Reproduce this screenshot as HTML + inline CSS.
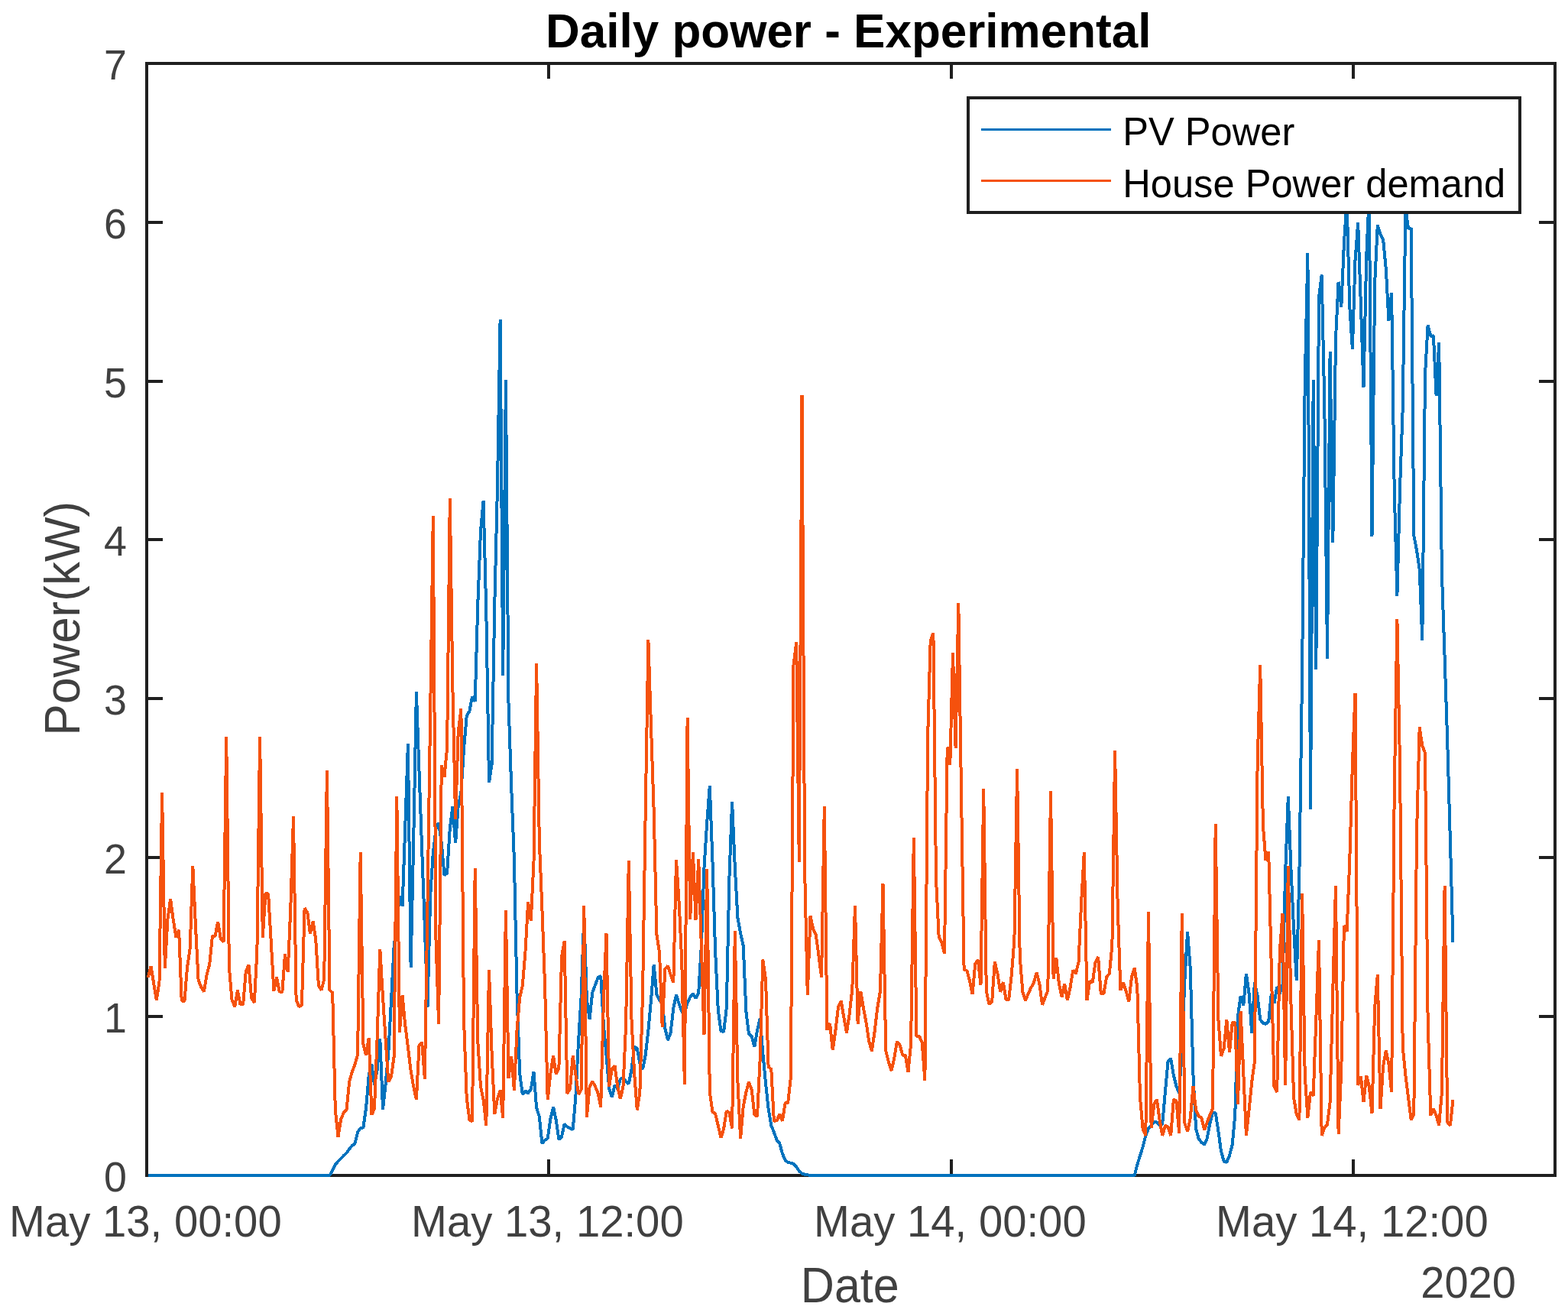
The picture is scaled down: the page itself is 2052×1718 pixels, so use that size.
<!DOCTYPE html>
<html lang="en">
<head>
<meta charset="utf-8">
<title>Daily power - Experimental</title>
<style>
html,body{margin:0;padding:0;background:#fff;}
body{width:2052px;height:1718px;overflow:hidden;}
svg{display:block;}
text{font-family:"Liberation Sans",sans-serif;}
.tk{font-size:56px;fill:#404040;}
.lb{font-size:62px;fill:#404040;}
.tt{font-size:62px;font-weight:bold;fill:#000;}
.lg{font-size:50.5px;fill:#000;}
</style>
</head>
<body>
<svg width="2052" height="1718" viewBox="0 0 2052 1718">
<rect x="0" y="0" width="2052" height="1718" fill="#fff"/>
<text class="tt" transform="translate(1110.20,62.20) scale(1,1.02)" text-anchor="middle">Daily power - Experimental</text>
<defs><clipPath id="c"><rect x="192.0" y="81.0" width="1843.0" height="1459.0"/></clipPath></defs>
<g stroke="#1f1f1f" stroke-width="4" fill="none" stroke-linecap="butt" shape-rendering="crispEdges">
<rect x="192.0" y="83.0" width="1843.0" height="1455.0"/>
<line x1="192.0" y1="1330.0" x2="213.0" y2="1330.0"/>
<line x1="2035.0" y1="1330.0" x2="2014.0" y2="1330.0"/>
<line x1="192.0" y1="1122.0" x2="213.0" y2="1122.0"/>
<line x1="2035.0" y1="1122.0" x2="2014.0" y2="1122.0"/>
<line x1="192.0" y1="914.0" x2="213.0" y2="914.0"/>
<line x1="2035.0" y1="914.0" x2="2014.0" y2="914.0"/>
<line x1="192.0" y1="706.0" x2="213.0" y2="706.0"/>
<line x1="2035.0" y1="706.0" x2="2014.0" y2="706.0"/>
<line x1="192.0" y1="499.0" x2="213.0" y2="499.0"/>
<line x1="2035.0" y1="499.0" x2="2014.0" y2="499.0"/>
<line x1="192.0" y1="291.0" x2="213.0" y2="291.0"/>
<line x1="2035.0" y1="291.0" x2="2014.0" y2="291.0"/>
<line x1="718.0" y1="1538.0" x2="718.0" y2="1517.0"/>
<line x1="718.0" y1="83.0" x2="718.0" y2="103.0"/>
<line x1="1245.0" y1="1538.0" x2="1245.0" y2="1517.0"/>
<line x1="1245.0" y1="83.0" x2="1245.0" y2="103.0"/>
<line x1="1771.0" y1="1538.0" x2="1771.0" y2="1517.0"/>
<line x1="1771.0" y1="83.0" x2="1771.0" y2="103.0"/>
</g>
<g clip-path="url(#c)">
<polyline fill="none" stroke="#0072BD" stroke-width="4" stroke-linejoin="bevel" stroke-linecap="butt" shape-rendering="crispEdges" points="193.8,1538.0 431.5,1538.0 435.2,1531.0 438.8,1524.0 442.5,1519.5 446.1,1516.0 449.8,1512.0 453.5,1508.6 457.1,1503.5 460.8,1499.0 464.4,1496.4 468.1,1481.5 471.7,1476.0 475.4,1475.4 479.1,1449.4 482.7,1407.0 486.4,1392.3 490.0,1419.4 493.7,1399.6 497.3,1358.7 501.0,1451.5 504.6,1418.7 508.3,1377.7 512.0,1309.0 515.6,1238.8 519.3,1208.0 522.9,1172.3 526.6,1185.5 530.2,1084.0 533.9,973.5 537.6,1265.9 541.2,1100.0 544.9,905.5 548.5,1009.0 552.2,1112.0 555.9,1215.0 559.5,1318.0 563.2,1171.6 566.8,1116.0 570.5,1085.0 574.1,1076.5 577.8,1103.0 581.5,1145.3 585.1,1142.3 588.8,1084.0 592.4,1055.4 596.1,1102.9 599.7,1054.6 603.4,1037.0 607.0,980.0 610.7,937.0 614.4,930.4 618.0,911.3 621.7,917.9 625.3,790.0 629.0,695.0 632.6,655.5 636.3,800.0 640.0,1024.0 643.6,1000.0 647.3,790.0 650.9,640.0 654.6,417.6 658.2,883.6 661.9,497.0 665.5,920.0 669.2,1030.0 672.9,1125.0 676.5,1300.0 680.2,1405.0 683.8,1432.0 687.5,1427.4 691.1,1430.4 694.8,1425.2 698.5,1402.6 702.1,1449.4 705.8,1461.0 709.4,1496.1 713.1,1491.8 716.7,1489.6 720.4,1464.0 724.1,1448.6 727.7,1465.4 731.4,1491.0 735.0,1487.4 738.7,1470.6 742.3,1474.5 746.0,1476.4 749.7,1477.9 753.3,1436.2 757.0,1363.0 760.6,1304.6 764.3,1198.0 767.9,1307.5 771.6,1333.9 775.2,1298.8 778.9,1289.0 782.6,1279.0 786.2,1277.0 789.9,1341.0 793.5,1380.7 797.2,1424.5 800.9,1435.5 804.5,1420.0 808.2,1424.5 811.8,1412.0 815.5,1410.0 819.1,1415.0 822.8,1418.0 826.5,1399.6 830.1,1369.7 833.8,1371.9 837.4,1391.0 841.1,1399.0 844.7,1380.6 848.4,1348.5 852.0,1309.0 855.7,1262.2 859.4,1301.7 863.0,1308.3 866.7,1312.0 870.3,1345.6 874.0,1361.0 877.6,1351.4 881.3,1319.0 885.0,1301.7 888.6,1313.4 892.3,1323.6 895.9,1326.5 899.6,1312.0 903.2,1304.6 906.9,1300.0 910.5,1306.4 914.2,1298.8 917.9,1237.0 921.5,1135.0 925.2,1076.5 928.8,1028.3 932.5,1127.7 936.1,1244.7 939.8,1322.0 943.5,1349.2 947.1,1350.0 950.8,1319.0 954.4,1149.6 958.1,1049.5 961.8,1135.0 965.4,1200.8 969.1,1221.3 972.7,1237.4 976.4,1323.6 980.0,1352.9 983.7,1355.8 987.3,1369.7 991.0,1348.5 994.7,1332.4 998.3,1377.7 1002.0,1417.2 1005.6,1450.8 1009.3,1472.7 1012.9,1481.5 1016.6,1491.8 1020.2,1496.0 1023.9,1509.3 1027.6,1518.0 1031.2,1521.0 1034.9,1521.7 1038.5,1522.7 1042.2,1526.8 1045.8,1532.0 1049.5,1535.6 1053.2,1536.8 1056.8,1537.4 1060.5,1537.8 1064.1,1538.0 1484.7,1538.0 1488.3,1523.9 1492.0,1512.2 1495.6,1500.5 1499.3,1485.9 1503.0,1476.4 1506.6,1472.7 1510.3,1467.6 1513.9,1468.7 1517.6,1472.7 1521.2,1470.6 1524.9,1428.9 1528.5,1389.4 1532.2,1385.0 1535.9,1407.0 1539.5,1421.6 1543.2,1430.4 1546.8,1370.0 1550.5,1281.0 1554.1,1219.5 1557.8,1268.0 1561.5,1407.0 1565.1,1477.0 1568.8,1490.3 1572.4,1494.7 1576.1,1497.6 1579.7,1489.6 1583.4,1469.8 1587.0,1456.0 1590.7,1456.0 1594.4,1480.0 1598.0,1506.4 1601.7,1519.5 1605.3,1520.7 1609.0,1512.2 1612.7,1497.6 1616.3,1458.0 1620.0,1329.5 1623.6,1303.2 1627.3,1315.6 1630.9,1274.0 1634.6,1300.0 1638.2,1351.4 1641.9,1285.0 1645.6,1303.0 1649.2,1333.9 1652.9,1339.0 1656.5,1339.7 1660.2,1336.8 1663.8,1300.0 1667.5,1313.0 1671.2,1291.0 1674.8,1300.0 1678.5,1288.0 1682.1,1142.0 1685.8,1042.2 1689.4,1135.0 1693.1,1215.4 1696.8,1283.4 1700.4,1142.3 1704.1,880.0 1707.7,500.0 1711.4,331.0 1715.0,1059.0 1718.7,497.1 1722.3,876.3 1726.0,389.4 1729.7,359.6 1733.3,529.0 1737.0,861.6 1740.6,460.2 1744.3,710.3 1748.0,443.0 1751.6,368.7 1755.3,402.0 1758.9,318.7 1762.6,262.0 1766.2,400.0 1769.9,457.0 1773.5,340.7 1777.2,291.2 1780.9,399.0 1784.5,507.3 1788.2,336.0 1791.8,255.0 1795.5,702.0 1799.1,372.0 1802.8,294.4 1806.5,307.0 1810.1,313.2 1813.8,351.7 1817.4,420.0 1821.1,383.2 1824.7,640.0 1828.4,779.8 1832.0,640.0 1835.7,535.0 1839.4,272.0 1843.0,299.0 1846.7,298.6 1850.3,700.8 1854.0,720.0 1857.7,745.0 1861.3,837.5 1865.0,490.0 1868.6,425.6 1872.3,439.7 1875.9,439.4 1879.6,517.5 1883.2,448.4 1886.9,750.0 1890.6,860.0 1894.2,970.0 1897.9,1100.0 1901.5,1233.0"/>
<polyline fill="none" stroke="#F5510D" stroke-width="4" stroke-linejoin="bevel" stroke-linecap="butt" shape-rendering="crispEdges" points="193.8,1278.9 197.5,1264.5 204.8,1308.5 208.5,1284.7 212.1,1036.7 215.8,1267.2 219.4,1203.2 223.1,1176.4 226.7,1203.2 230.4,1226.5 234.1,1216.7 237.7,1309.2 241.4,1310.3 245.0,1266.1 248.7,1240.5 252.3,1132.9 256.0,1212.5 259.6,1282.4 263.3,1291.7 267.0,1297.5 270.6,1275.4 274.3,1261.4 277.9,1225.3 281.6,1224.6 285.2,1206.0 288.9,1228.8 292.6,1232.3 296.2,963.8 299.9,1266.1 303.5,1308.0 307.2,1317.3 310.9,1295.7 314.5,1314.3 318.2,1313.8 321.8,1270.8 325.5,1262.6 329.1,1305.7 332.8,1312.0 336.4,1245.1 340.1,963.8 343.8,1226.5 347.4,1169.4 351.1,1169.4 354.7,1231.2 358.4,1296.4 362.0,1278.9 365.7,1297.5 369.4,1298.0 373.0,1248.6 376.7,1271.9 380.3,1188.1 384.0,1068.1 387.6,1308.0 391.3,1317.3 394.9,1315.5 398.6,1188.1 402.3,1193.9 405.9,1221.8 409.6,1205.5 413.2,1228.8 416.9,1289.4 420.6,1295.7 424.2,1281.2 427.9,1008.0 431.5,1295.6 435.2,1299.0 438.8,1452.0 442.5,1487.7 446.1,1464.7 449.8,1456.0 453.5,1452.0 457.1,1415.7 460.8,1402.6 464.4,1393.0 468.1,1380.0 471.7,1114.6 475.4,1366.0 479.1,1381.0 482.7,1358.0 486.4,1458.6 490.0,1450.5 493.7,1356.0 497.3,1241.8 501.0,1304.6 504.6,1360.0 508.3,1415.5 512.0,1408.5 515.6,1383.0 519.3,1042.2 522.9,1350.7 526.6,1302.4 530.2,1341.0 533.9,1370.0 537.6,1401.0 541.2,1421.6 544.9,1439.0 548.5,1368.2 552.2,1363.8 555.9,1412.0 559.5,1180.0 563.2,930.0 566.8,675.2 570.5,1230.0 574.1,1339.7 577.8,1001.3 581.5,1016.6 585.1,978.6 588.8,652.3 592.4,900.0 596.1,1072.0 599.7,958.0 603.4,927.4 607.0,1334.0 610.7,1436.0 614.4,1465.4 618.0,1467.6 621.7,1136.5 625.3,1363.0 629.0,1421.6 632.6,1439.0 636.3,1472.7 640.0,1269.5 643.6,1378.0 647.3,1458.0 650.9,1437.7 654.6,1426.7 658.2,1463.2 661.9,1190.6 665.5,1411.3 669.2,1382.0 672.9,1426.7 676.5,1348.5 680.2,1304.6 683.8,1290.0 687.5,1244.7 691.1,1180.4 694.8,1205.2 698.5,1127.7 702.1,868.0 705.8,1100.0 709.4,1189.0 713.1,1290.0 716.7,1439.0 720.4,1405.0 724.1,1381.4 727.7,1405.5 731.4,1397.5 735.0,1252.0 738.7,1231.5 742.3,1431.0 746.0,1424.5 749.7,1381.4 753.3,1405.0 757.0,1431.8 760.6,1426.0 764.3,1185.5 767.9,1461.8 771.6,1422.3 775.2,1414.6 778.9,1421.6 782.6,1430.4 786.2,1448.6 789.9,1310.0 793.5,1221.3 797.2,1421.6 800.9,1398.2 804.5,1394.5 808.2,1421.6 811.8,1438.0 815.5,1421.6 819.1,1341.0 822.8,1126.3 826.5,1334.0 830.1,1404.0 833.8,1452.3 837.4,1428.9 841.1,1297.0 844.7,1062.0 848.4,837.5 852.0,950.0 855.7,1062.0 859.4,1222.7 863.0,1246.0 866.7,1344.1 870.3,1268.0 874.0,1263.7 877.6,1275.4 881.3,1285.6 885.0,1125.5 888.6,1180.0 892.3,1259.0 895.9,1418.7 899.6,939.1 903.2,1203.0 906.9,1114.6 910.5,1203.7 914.2,1124.0 917.9,1240.0 921.5,1354.3 925.2,1137.2 928.8,1428.9 932.5,1455.2 936.1,1457.0 939.8,1472.7 943.5,1488.8 947.1,1477.1 950.8,1453.7 954.4,1455.9 958.1,1476.4 961.8,1218.4 965.4,1415.0 969.1,1489.6 972.7,1447.9 976.4,1428.9 980.0,1415.7 983.7,1426.0 987.3,1458.1 991.0,1461.0 994.7,1385.0 998.3,1255.6 1002.0,1281.0 1005.6,1396.0 1009.3,1399.0 1012.9,1467.0 1016.6,1466.2 1020.2,1458.0 1023.9,1466.9 1027.6,1443.5 1031.2,1442.8 1034.9,1409.9 1038.5,870.0 1042.2,840.4 1045.8,1127.7 1049.5,517.5 1053.2,1142.0 1056.8,1302.4 1060.5,1198.6 1064.1,1215.4 1067.8,1223.5 1071.5,1250.5 1075.1,1279.0 1078.8,1055.4 1082.4,1347.7 1086.1,1339.0 1089.7,1374.0 1093.4,1348.5 1097.0,1317.8 1100.7,1309.7 1104.4,1331.7 1108.0,1351.4 1111.7,1326.5 1115.3,1294.4 1119.0,1184.7 1122.6,1339.7 1126.3,1297.3 1130.0,1319.2 1133.6,1338.2 1137.3,1363.0 1140.9,1375.5 1144.6,1350.0 1148.2,1319.2 1151.9,1297.3 1155.5,1156.2 1159.2,1374.8 1162.9,1389.4 1166.5,1401.0 1170.2,1385.0 1173.8,1363.0 1177.5,1366.8 1181.2,1380.6 1184.8,1380.6 1188.5,1402.6 1192.1,1366.0 1195.8,1096.3 1199.4,1355.8 1203.1,1355.8 1206.8,1364.6 1210.4,1414.3 1214.1,965.0 1217.7,838.0 1221.4,828.3 1225.0,1150.0 1228.7,1226.4 1232.3,1233.0 1236.0,1247.6 1239.7,977.6 1243.3,1000.5 1247.0,854.3 1250.6,978.6 1254.3,789.0 1257.9,1030.0 1261.6,1268.8 1265.3,1269.8 1268.9,1282.7 1272.6,1301.0 1276.2,1261.0 1279.9,1256.1 1283.5,1288.5 1287.2,1032.0 1290.8,1297.0 1294.5,1314.0 1298.2,1310.5 1301.8,1258.6 1305.5,1274.0 1309.1,1298.0 1312.8,1285.0 1316.5,1307.5 1320.1,1308.3 1323.8,1275.4 1327.4,1230.0 1331.1,1006.3 1334.7,1252.0 1338.4,1298.0 1342.0,1309.0 1345.7,1300.0 1349.4,1292.0 1353.0,1285.6 1356.7,1272.5 1360.3,1287.0 1364.0,1314.9 1367.7,1305.0 1371.3,1296.0 1375.0,1035.2 1378.6,1281.0 1382.3,1253.5 1385.9,1287.0 1389.6,1304.6 1393.2,1287.0 1396.9,1309.0 1400.6,1292.0 1404.2,1269.5 1407.9,1274.0 1411.5,1259.0 1415.2,1179.0 1418.8,1115.2 1422.5,1309.0 1426.2,1283.4 1429.8,1285.6 1433.5,1259.3 1437.1,1252.0 1440.8,1300.2 1444.4,1300.2 1448.1,1278.3 1451.8,1274.0 1455.4,1237.0 1459.1,982.3 1462.7,1186.0 1466.4,1295.8 1470.0,1285.6 1473.7,1297.0 1477.3,1310.5 1481.0,1278.3 1484.7,1266.6 1488.3,1292.0 1492.0,1436.0 1495.6,1477.0 1499.3,1486.0 1503.0,1192.8 1506.6,1475.7 1510.3,1445.0 1513.9,1438.4 1517.6,1465.4 1521.2,1486.0 1524.9,1472.7 1528.5,1474.2 1532.2,1486.0 1535.9,1438.4 1539.5,1440.6 1543.2,1483.0 1546.8,1195.3 1550.5,1469.8 1554.1,1480.8 1557.8,1462.5 1561.5,1421.6 1565.1,1452.3 1568.8,1460.8 1572.4,1462.5 1576.1,1478.6 1579.7,1468.4 1583.4,1458.9 1587.0,1450.8 1590.7,1078.4 1594.4,1333.9 1598.0,1382.0 1601.7,1371.9 1605.3,1333.9 1609.0,1377.0 1612.7,1338.2 1616.3,1337.5 1620.0,1445.0 1623.6,1322.9 1627.3,1404.0 1630.9,1485.9 1634.6,1452.3 1638.2,1415.7 1641.9,1389.4 1645.6,1000.0 1649.2,870.1 1652.9,1080.0 1656.5,1126.0 1660.2,1114.6 1663.8,1266.6 1667.5,1421.6 1671.2,1428.9 1674.8,1245.0 1678.5,1195.0 1682.1,1420.0 1685.8,1132.8 1689.4,1310.0 1693.1,1436.2 1696.8,1458.1 1700.4,1465.4 1704.1,1168.7 1707.7,1407.0 1711.4,1462.5 1715.0,1428.9 1718.7,1434.0 1722.3,1334.0 1726.0,1230.0 1729.7,1485.9 1733.3,1475.7 1737.0,1471.3 1740.6,1442.0 1744.3,1295.0 1748.0,1159.0 1751.6,1484.4 1755.3,1400.0 1758.9,1211.0 1762.6,1219.0 1766.2,1127.7 1769.9,1000.0 1773.5,907.0 1777.2,1420.0 1780.9,1408.4 1784.5,1442.0 1788.2,1407.0 1791.8,1421.6 1795.5,1456.7 1799.1,1319.0 1802.8,1275.4 1806.5,1450.8 1810.1,1395.0 1813.8,1374.8 1817.4,1392.3 1821.1,1428.9 1824.7,1040.0 1828.4,810.2 1832.0,1000.0 1835.7,1370.0 1839.4,1407.0 1843.0,1436.2 1846.7,1465.4 1850.3,1458.1 1854.0,1090.0 1857.7,951.5 1861.3,975.7 1865.0,985.2 1868.6,1334.0 1872.3,1459.6 1875.9,1450.8 1879.6,1459.6 1883.2,1472.7 1886.9,1429.0 1890.6,1159.2 1894.2,1468.4 1897.9,1472.7 1901.5,1439.1"/>
</g>
<text class="tk" transform="translate(166.00,1558.50) scale(0.96,1)" text-anchor="end">0</text>
<text class="tk" transform="translate(166.00,1350.50) scale(0.96,1)" text-anchor="end">1</text>
<text class="tk" transform="translate(166.00,1142.50) scale(0.96,1)" text-anchor="end">2</text>
<text class="tk" transform="translate(166.00,934.50) scale(0.96,1)" text-anchor="end">3</text>
<text class="tk" transform="translate(166.00,726.50) scale(0.96,1)" text-anchor="end">4</text>
<text class="tk" transform="translate(166.00,519.50) scale(0.96,1)" text-anchor="end">5</text>
<text class="tk" transform="translate(166.00,311.50) scale(0.96,1)" text-anchor="end">6</text>
<text class="tk" transform="translate(166.00,103.50) scale(0.96,1)" text-anchor="end">7</text>
<text class="tk" transform="translate(190.40,1617.80) scale(1.005,1.04)" text-anchor="middle">May 13, 00:00</text>
<text class="tk" transform="translate(716.40,1617.80) scale(1.005,1.04)" text-anchor="middle">May 13, 12:00</text>
<text class="tk" transform="translate(1243.40,1617.80) scale(1.005,1.04)" text-anchor="middle">May 14, 00:00</text>
<text class="tk" transform="translate(1769.40,1617.80) scale(1.005,1.04)" text-anchor="middle">May 14, 12:00</text>
<text class="tk" transform="translate(1983.80,1697.80) scale(1,1.03)" text-anchor="end">2020</text>
<text class="lb" transform="translate(1112.30,1703.80) scale(0.985,1.03)" text-anchor="middle">Date</text>
<text class="lb" transform="translate(103.80,809.20) rotate(-90) scale(1,1.05)" text-anchor="middle">Power(kW)</text>
<rect x="1267" y="128" width="722" height="150" fill="#fff" stroke="#1f1f1f" stroke-width="4" shape-rendering="crispEdges"/>
<line x1="1284" y1="169.5" x2="1454" y2="169.5" stroke="#0072BD" stroke-width="3" shape-rendering="crispEdges"/>
<line x1="1284" y1="236.5" x2="1454" y2="236.5" stroke="#F5510D" stroke-width="3" shape-rendering="crispEdges"/>
<text class="lg" transform="translate(1469.20,190.40) scale(1.003,1.03)" text-anchor="start">PV Power</text>
<text class="lg" transform="translate(1469.20,257.90) scale(1.003,1.03)" text-anchor="start">House Power demand</text>
</svg>
</body>
</html>
